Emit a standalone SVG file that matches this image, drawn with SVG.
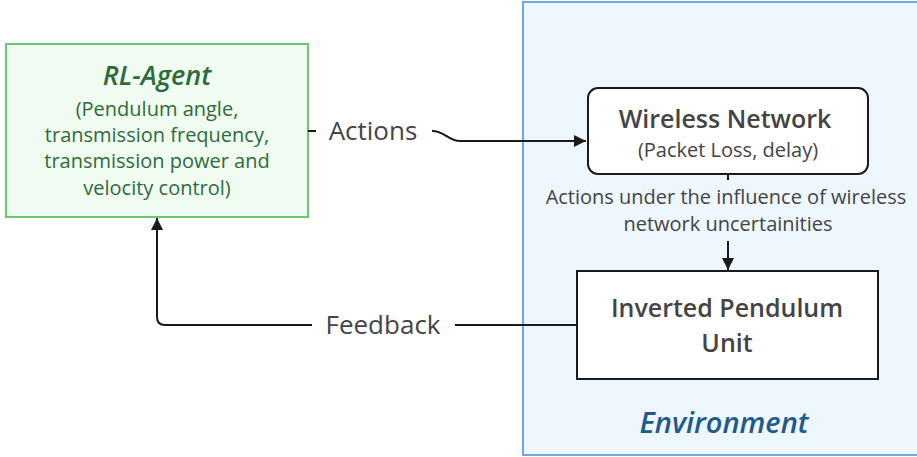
<svg xmlns="http://www.w3.org/2000/svg" width="917" height="457" viewBox="0 0 917 457">
<style>
text{font-family:"Open Sans","Noto Sans","Liberation Sans",sans-serif;text-anchor:middle}
.t{font-size:25px;font-weight:600;fill:#444}
.s{font-size:20px;fill:#444}
.g{font-size:20px;fill:#2e6b3a}
.lbl{font-size:26px;fill:#444}
.c{fill:none;stroke:#1a1a1a;stroke-width:2}
</style>
<defs>
<marker id="ah" viewBox="0 0 10 10" refX="10" refY="5" markerWidth="12" markerHeight="12" markerUnits="userSpaceOnUse" orient="auto">
<path d="M0,0 L10,5 L0,10 Z" fill="#1a1a1a"/>
</marker>
</defs>
<rect width="917" height="457" fill="#fff"/>
<g id="environment">
<rect x="523" y="2" width="400" height="453" fill="#eef6fe" stroke="#6fa8dc" stroke-width="2"/>
<text x="724" y="433" style="font-size:29px;font-weight:600;font-style:italic;fill:#1f5a8a">Environment</text>
</g>
<g id="rl-agent">
<rect x="6" y="44" width="302" height="173" fill="#f0fbf2" stroke="#6cc56f" stroke-width="2"/>
<text x="157" y="85" style="font-size:27px;font-weight:600;font-style:italic;fill:#2e6b3a">RL-Agent</text>
<text x="157" y="116" class="g">(Pendulum angle,</text>
<text x="157" y="142" class="g">transmission frequency,</text>
<text x="157" y="168" class="g">transmission power and</text>
<text x="157" y="195" class="g">velocity control)</text>
</g>
<g id="wireless-network">
<rect x="588" y="88" width="280" height="86" rx="10" fill="#fff" stroke="#1a1a1a" stroke-width="2"/>
<text x="725" y="128" class="t">Wireless Network</text>
<text x="728" y="157" class="s">(Packet Loss, delay)</text>
</g>
<g id="inverted-pendulum">
<rect x="577" y="271" width="301" height="108" fill="#fff" stroke="#1a1a1a" stroke-width="2"/>
<text x="727" y="317" class="t">Inverted Pendulum</text>
<text x="727" y="352" class="t">Unit</text>
</g>
<g id="connectors">
<path class="c" d="M308,131 H316"/>
<path class="c" d="M432,131 C445,131 448,141 460,141 H586" marker-end="url(#ah)"/>
<text x="373" y="140" class="lbl">Actions</text>
<path class="c" d="M728,174 V180"/>
<path class="c" d="M728,241 V270" marker-end="url(#ah)"/>
<text x="726" y="204" class="s">Actions under the influence of wireless</text>
<text x="728" y="231" class="s">network uncertainities</text>
<path class="c" d="M577,325 H455"/>
<path class="c" d="M312,325 H165 Q157,325 157,317 V218" marker-end="url(#ah)"/>
<text x="383" y="334" class="lbl">Feedback</text>
</g>
</svg>
